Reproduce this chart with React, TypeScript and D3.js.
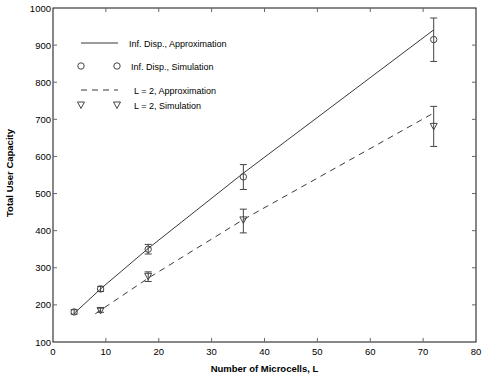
import React, { useEffect, useRef } from "react";
import * as d3 from "d3";

// approximation curves
const infApproxL = [4, 9, 18, 36, 72];
const infApproxV = [177, 243, 352, 555, 941];
const l2ApproxL = [8, 18, 36, 72];
const l2ApproxV = [176, 272, 430, 717];

// simulation points with error bars
const simL = [4, 9, 18, 36, 72];
const infSimV = [181, 243, 350, 545, 915];
const infSimLo = [175, 236, 337, 511, 856];
const infSimHi = [187, 250, 363, 578, 973];
const l2SimL = [9, 18, 36, 72];
const l2SimV = [185, 277, 429, 681];
const l2SimLo = [180, 263, 394, 627];
const l2SimHi = [191, 289, 458, 735];

const xTicks = [0, 10, 20, 30, 40, 50, 60, 70, 80];
const yTicks = [100, 200, 300, 400, 500, 600, 700, 800, 900, 1000];

const legendLabels = [
  "Inf. Disp., Approximation",
  "Inf. Disp., Simulation",
  "L = 2, Approximation",
  "L = 2, Simulation",
];

export default function App() {
  const ref = useRef<SVGSVGElement>(null);

  useEffect(() => {
    const svg = d3.select(ref.current);
    svg.selectAll("*").remove();

    const width = 485;
    const height = 377;
    const margin = { top: 8, right: 9, bottom: 35, left: 53 };
    const font = "Liberation Sans, Arial, sans-serif";

    const x = d3.scaleLinear().domain([0, 80]).range([margin.left, width - margin.right]);
    const y = d3.scaleLinear().domain([100, 1000]).range([height - margin.bottom, margin.top]);

    const gray = "#444";

    // frame
    svg.append("rect")
      .attr("x", x(0)).attr("y", y(1000))
      .attr("width", x(80) - x(0)).attr("height", y(100) - y(1000))
      .attr("fill", "white").attr("stroke", "#111").attr("stroke-width", 1);

    // ticks on all sides, pointing in
    const tl = 4;
    const g = svg.append("g").attr("stroke", "#666").attr("stroke-width", 1);
    xTicks.slice(1, -1).forEach(t => {
      g.append("line").attr("x1", x(t)).attr("x2", x(t)).attr("y1", y(100)).attr("y2", y(100) - tl);
      g.append("line").attr("x1", x(t)).attr("x2", x(t)).attr("y1", y(1000)).attr("y2", y(1000) + tl);
    });
    yTicks.slice(1, -1).forEach(t => {
      g.append("line").attr("x1", x(0)).attr("x2", x(0) + tl).attr("y1", y(t)).attr("y2", y(t));
      g.append("line").attr("x1", x(80)).attr("x2", x(80) - tl).attr("y1", y(t)).attr("y2", y(t));
    });

    // tick labels
    svg.append("g").selectAll("text").data(xTicks).enter().append("text")
      .attr("x", d => x(d)).attr("y", y(100) + 13)
      .attr("text-anchor", "middle").attr("font-family", font).attr("font-size", 9.5)
      .text(d => d);
    svg.append("g").selectAll("text").data(yTicks).enter().append("text")
      .attr("x", x(0) - 2).attr("y", d => y(d) + 3.5)
      .attr("text-anchor", "end").attr("font-family", font).attr("font-size", 9.5)
      .text(d => d);

    // axis titles
    svg.append("text")
      .attr("x", (x(0) + x(80)) / 2).attr("y", height - 5)
      .attr("text-anchor", "middle").attr("font-family", font).attr("font-size", 9.5).attr("font-weight", "bold")
      .text("Number of Microcells, L");
    svg.append("text")
      .attr("transform", `translate(13, ${(y(100) + y(1000)) / 2 - 2}) rotate(-90)`)
      .attr("text-anchor", "middle").attr("font-family", font).attr("font-size", 9.5).attr("font-weight", "bold")
      .text("Total User Capacity");

    const line = d3.line<[number, number]>().x(d => x(d[0])).y(d => y(d[1]));

    svg.append("path")
      .attr("d", line(infApproxL.map((l, i) => [l, infApproxV[i]] as [number, number])))
      .attr("fill", "none").attr("stroke", "#222").attr("stroke-width", 0.9);
    svg.append("path")
      .attr("d", line(l2ApproxL.map((l, i) => [l, l2ApproxV[i]] as [number, number])))
      .attr("fill", "none").attr("stroke", "#222").attr("stroke-width", 0.9)
      .attr("stroke-dasharray", "6,5");

    // error bars
    const errBars = (ls: number[], lo: number[], hi: number[]) => {
      const eg = svg.append("g").attr("stroke", gray).attr("stroke-width", 1);
      ls.forEach((l, i) => {
        eg.append("line").attr("x1", x(l)).attr("x2", x(l)).attr("y1", y(lo[i])).attr("y2", y(hi[i]));
        eg.append("line").attr("x1", x(l) - 3.5).attr("x2", x(l) + 3.5).attr("y1", y(lo[i])).attr("y2", y(lo[i]));
        eg.append("line").attr("x1", x(l) - 3.5).attr("x2", x(l) + 3.5).attr("y1", y(hi[i])).attr("y2", y(hi[i]));
      });
    };
    errBars(simL, infSimLo, infSimHi);
    errBars(l2SimL, l2SimLo, l2SimHi);

    const circle = (cx: number, cy: number) =>
      svg.append("circle").attr("cx", cx).attr("cy", cy).attr("r", 3.2)
        .attr("fill", "none").attr("stroke", gray).attr("stroke-width", 1);
    const tri = (cx: number, cy: number) =>
      svg.append("path")
        .attr("d", `M${cx - 3.5},${cy - 3} L${cx + 3.5},${cy - 3} L${cx},${cy + 3.5} Z`)
        .attr("fill", "none").attr("stroke", gray).attr("stroke-width", 1);

    simL.forEach((l, i) => circle(x(l), y(infSimV[i])));
    l2SimL.forEach((l, i) => tri(x(l), y(l2SimV[i])));

    // legend
    const lx1 = 81, lx2 = 118, tx = 131;
    const ly = [43, 66, 90, 105];
    svg.append("line").attr("x1", lx1).attr("x2", lx2).attr("y1", ly[0]).attr("y2", ly[0])
      .attr("stroke", "#222").attr("stroke-width", 0.9);
    circle(lx1, ly[1]); circle(lx2 - 1, ly[1]);
    svg.append("line").attr("x1", lx1).attr("x2", lx2).attr("y1", ly[2]).attr("y2", ly[2])
      .attr("stroke", "#222").attr("stroke-width", 0.9).attr("stroke-dasharray", "6,5");
    tri(lx1, ly[3]); tri(lx2 - 1, ly[3]);
    legendLabels.forEach((t, i) => {
      svg.append("text")
        .attr("x", i < 2 ? tx - 2 + i * 2 : tx + 3)
        .attr("y", ly[i] + 3.5)
        .attr("font-family", font).attr("font-size", 9)
        .text(t);
    });
  }, []);

  return <svg ref={ref} width={485} height={377} style={{ position: "absolute", left: 0, top: 0 }} />;
}
